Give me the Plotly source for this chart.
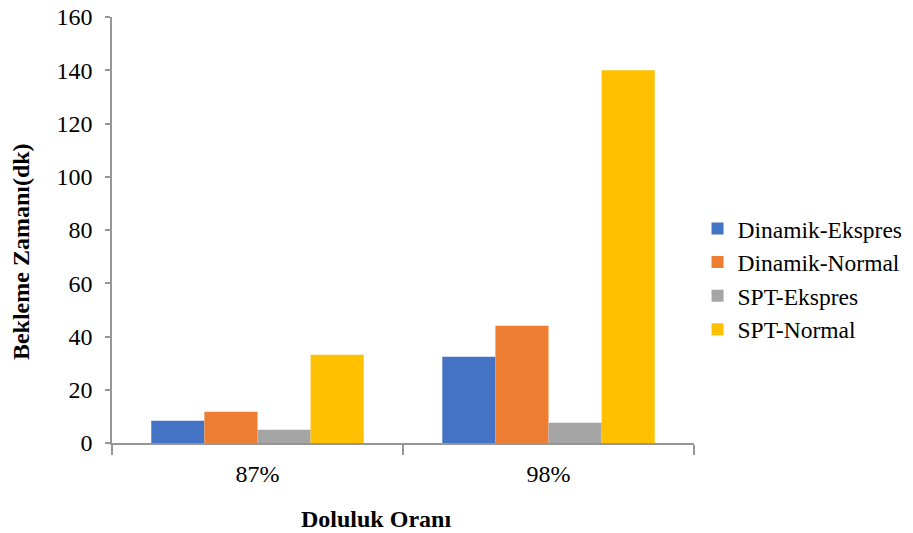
import plotly.graph_objects as go

categories = ["87%", "98%"]
series_names = ["Dinamik-Ekspres", "Dinamik-Normal", "SPT-Ekspres", "SPT-Normal"]
dinamik_ekspres = [8.4, 32.4]
dinamik_normal = [11.7, 44.0]
spt_ekspres = [5.0, 7.6]
spt_normal = [33.1, 140.0]
y_ticks = [0, 20, 40, 60, 80, 100, 120, 140, 160]

colors = ["#4472C4", "#ED7D31", "#A5A5A5", "#FFC000"]
values = [dinamik_ekspres, dinamik_normal, spt_ekspres, spt_normal]

font_family = "Liberation Serif"
axis_color = "#969696"

fig = go.Figure()
for name, vals, col in zip(series_names, values, colors):
    fig.add_trace(go.Bar(
        x=categories, y=vals, name=name,
        marker=dict(color=col, line=dict(width=0)),
        legendgroup=name,
    ))

fig.update_layout(
    width=913, height=533,
    margin=dict(l=112, r=219, t=17, b=90, autoexpand=False),
    paper_bgcolor="white", plot_bgcolor="white",
    font=dict(family=font_family, size=24, color="#000"),
    barmode="group", bargap=0.27, bargroupgap=0,
    showlegend=True,
    legend=dict(
        xref="container", yref="container",
        x=0.764, y=0.476, xanchor="left", yanchor="middle",
        font=dict(family=font_family, size=23.5),
        tracegroupgap=0, traceorder="grouped",
        bgcolor="rgba(0,0,0,0)", itemwidth=30,
    ),
    xaxis=dict(
        showline=True, linecolor=axis_color, linewidth=1.5,
        ticks="outside", tickson="boundaries", ticklen=10,
        tickcolor=axis_color, tickwidth=1.5,
        ticklabelstandoff=8,
        showgrid=False, zeroline=False, automargin=False,
    ),
    yaxis=dict(
        range=[0, 160], tickvals=y_ticks,
        showline=True, linecolor=axis_color, linewidth=1.5,
        ticks="outside", ticklen=5, tickcolor=axis_color, tickwidth=1.5,
        ticklabelstandoff=8,
        showgrid=False, zeroline=False, automargin=False,
    ),
    annotations=[
        dict(
            text="<b>Doluluk Oranı</b>", xref="paper", yref="paper",
            x=0.453, y=-0.178, xanchor="center", yanchor="middle",
            showarrow=False, font=dict(family=font_family, size=24),
        ),
        dict(
            text="<b>Bekleme Zamanı(dk)</b>", xref="paper", yref="paper",
            x=-0.155, y=0.45, xanchor="center", yanchor="middle",
            textangle=-90, showarrow=False,
            font=dict(family=font_family, size=24),
        ),
    ],
)

fig.write_html("out.html")
